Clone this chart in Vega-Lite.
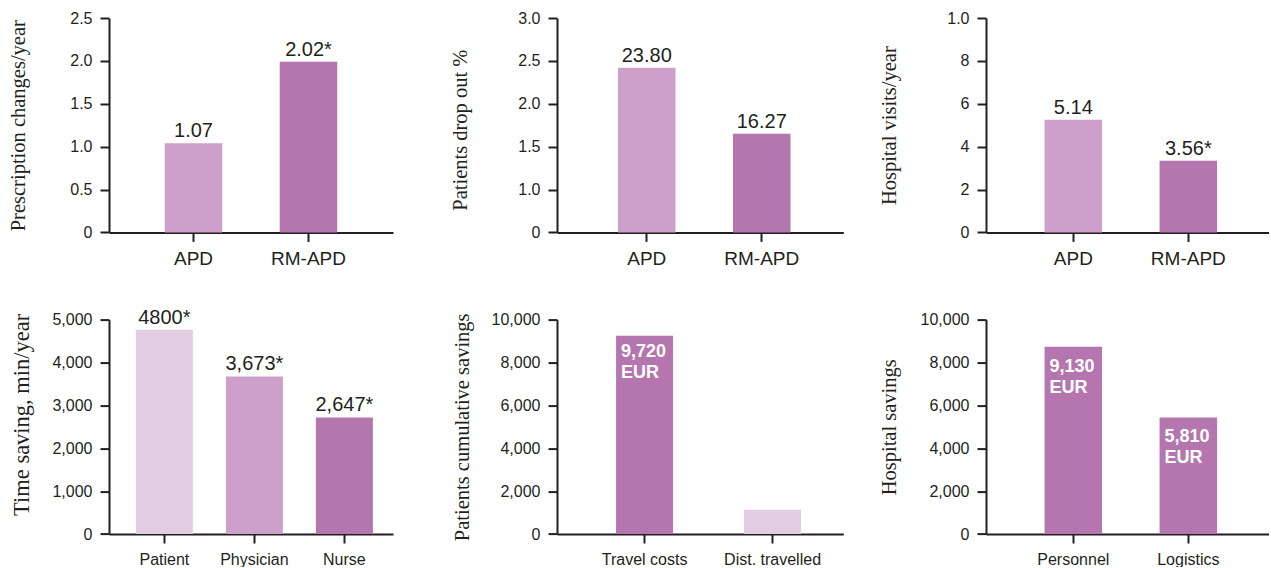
{
  "$schema": "https://vega.github.io/schema/vega-lite/v6.json",
  "padding": {"left": 8, "top": 10, "right": 0, "bottom": 0},
  "background": "white",
  "config": {
    "view": {"stroke": null},
    "axis": {
      "domainColor": "#231f20", "domainWidth": 2, "tickColor": "#231f20", "tickWidth": 2, "tickSize": 9,
      "labelColor": "#231f20", "labelFont": "Liberation Sans", "titleFont": "Liberation Serif",
      "titleFontWeight": "normal", "titleColor": "#231f20", "grid": false
    },
    "axisY": {"labelFontSize": 16, "labelPadding": 8, "titleFontSize": 20.5, "titleAngle": -90, "titleBaseline": "bottom", "titleAlign": "center"},
    "axisX": {"labelFontSize": 19, "labelPadding": 8, "labelAngle": 0, "title": null}
  },
  "datasets": {
    "p1": [{"cat": "APD", "value": 1.04, "label": "1.07"}, {"cat": "RM-APD", "value": 1.99, "label": "2.02*"}],
    "p2": [{"cat": "APD", "value": 2.42, "label": "23.80"}, {"cat": "RM-APD", "value": 1.65, "label": "16.27"}],
    "p3": [{"cat": "APD", "value": 5.26, "label": "5.14"}, {"cat": "RM-APD", "value": 3.34, "label": "3.56*"}],
    "p4": [{"cat": "Patient", "value": 4766, "label": "4800*"}, {"cat": "Physician", "value": 3675, "label": "3,673*"}, {"cat": "Nurse", "value": 2717, "label": "2,647*"}],
    "p5": [{"cat": "Travel costs", "value": 9252, "label": "9,720\nEUR"}, {"cat": "Dist. travelled", "value": 1136, "label": null}],
    "p6": [{"cat": "Personnel", "value": 8738, "label": "9,130\nEUR"}, {"cat": "Logistics", "value": 5435, "label": "5,810\nEUR"}]
  },
  "columns": 3,
  "bounds": "flush",
  "spacing": {"row": 86.6, "column": 142},
  "resolve": {"scale": {"color": "independent"}},
  "concat": [
    {
      "width": 305.7, "height": 214.4,
      "data": {"name": "p1"},
      "encoding": {
        "x": {"field": "cat", "type": "nominal", "sort": null, "scale": {"range": [0, 284], "paddingInner": 0.5, "paddingOuter": 0.4848, "align": 0.5}},
        "y": {"field": "value", "type": "quantitative", "stack": null, "scale": {"domain": [0, 2.5]},
              "axis": {"values": [0, 0.5, 1, 1.5, 2, 2.5], "labelExpr": "datum.value == 0 ? '0' : format(datum.value, '.1f')", "title": "Prescription changes/year", "titleX": -80.5}}
      },
      "layer": [
        {"mark": {"type": "bar"}, "encoding": {"color": {"field": "cat", "type": "nominal", "legend": null, "scale": {"domain": ["APD", "RM-APD"], "range": ["#cca0ca", "#b576af"]}}}},
        {"mark": {"type": "text", "font": "Liberation Sans", "fontSize": 20, "baseline": "alphabetic", "dy": -6, "color": "#231f20"}, "encoding": {"text": {"field": "label"}}}
      ]
    },
    {
      "width": 286.3, "height": 214.4,
      "data": {"name": "p2"},
      "encoding": {
        "x": {"field": "cat", "type": "nominal", "sort": null, "scale": {"paddingInner": 0.5, "paddingOuter": 0.4948, "align": 0.536}},
        "y": {"field": "value", "type": "quantitative", "stack": null, "scale": {"domain": [0.5, 3], "zero": false},
              "axis": {"values": [0.5, 1, 1.5, 2, 2.5, 3], "labelExpr": "datum.value == 0.5 ? '0' : format(datum.value, '.1f')", "title": "Patients drop out %", "titleX": -86.7, "titleY": 111.7}}
      },
      "layer": [
        {"mark": {"type": "bar"}, "encoding": {"y2": {"datum": 0.5}, "color": {"field": "cat", "type": "nominal", "legend": null, "scale": {"domain": ["APD", "RM-APD"], "range": ["#cca0ca", "#b576af"]}}}},
        {"mark": {"type": "text", "font": "Liberation Sans", "fontSize": 20, "baseline": "alphabetic", "dy": -6, "color": "#231f20"}, "encoding": {"text": {"field": "label"}}}
      ]
    },
    {
      "width": 283, "height": 214.4,
      "data": {"name": "p3"},
      "encoding": {
        "x": {"field": "cat", "type": "nominal", "sort": null, "scale": {"paddingInner": 0.5, "paddingOuter": 0.4804, "align": 0.53}},
        "y": {"field": "value", "type": "quantitative", "stack": null, "scale": {"domain": [0, 10]},
              "axis": {"values": [0, 2, 4, 6, 8, 10], "labelExpr": "datum.value == 10 ? '1.0' : datum.label", "title": "Hospital visits/year", "titleX": -87}}
      },
      "layer": [
        {"mark": {"type": "bar"}, "encoding": {"color": {"field": "cat", "type": "nominal", "legend": null, "scale": {"domain": ["APD", "RM-APD"], "range": ["#cca0ca", "#b576af"]}}}},
        {"mark": {"type": "text", "font": "Liberation Sans", "fontSize": 20, "baseline": "alphabetic", "dy": -6, "color": "#231f20"}, "encoding": {"text": {"field": "label"}}}
      ]
    },
    {
      "width": 305.7, "height": 214.4,
      "data": {"name": "p4"},
      "encoding": {
        "x": {"field": "cat", "type": "nominal", "sort": null, "scale": {"range": [0, 284], "paddingInner": 0.3667, "paddingOuter": 0.2611, "align": 0.572}, "axis": {"labelFontSize": 16}},
        "y": {"field": "value", "type": "quantitative", "stack": null, "scale": {"domain": [0, 5000]},
              "axis": {"values": [0, 1000, 2000, 3000, 4000, 5000], "format": ",d", "title": "Time saving, min/year", "titleFontSize": 22.5, "titleX": -76, "titleY": 94.7}}
      },
      "layer": [
        {"mark": {"type": "bar"}, "encoding": {"color": {"field": "cat", "type": "nominal", "legend": null, "scale": {"domain": ["Patient", "Physician", "Nurse"], "range": ["#e2cde3", "#cca0ca", "#b576af"]}}}},
        {"mark": {"type": "text", "font": "Liberation Sans", "fontSize": 20, "baseline": "alphabetic", "dy": -6, "color": "#231f20"}, "encoding": {"text": {"field": "label"}}}
      ]
    },
    {
      "width": 286.3, "height": 214.4,
      "data": {"name": "p5"},
      "encoding": {
        "x": {"field": "cat", "type": "nominal", "sort": null, "scale": {"paddingInner": 0.5547, "paddingOuter": 0.3957, "align": 0.583}, "axis": {"labelFontSize": 16}},
        "y": {"field": "value", "type": "quantitative", "stack": null, "scale": {"domain": [0, 10000]},
              "axis": {"values": [0, 2000, 4000, 6000, 8000, 10000], "format": ",d", "title": "Patients cumulative savings", "titleX": -85}}
      },
      "layer": [
        {"mark": {"type": "bar"}, "encoding": {"color": {"field": "cat", "type": "nominal", "legend": null, "scale": {"domain": ["Travel costs", "Dist. travelled"], "range": ["#b576af", "#e2cde3"]}}}},
        {"transform": [{"filter": "datum.label != null"}],
         "mark": {"type": "text", "font": "Liberation Sans", "fontWeight": "bold", "fontSize": 18, "color": "white", "align": "left", "baseline": "top", "dx": 5, "dy": 7, "lineBreak": "\n", "lineHeight": 21},
         "encoding": {"x": {"field": "cat", "type": "nominal", "sort": null, "bandPosition": 0}, "text": {"field": "label"}}}
      ]
    },
    {
      "width": 283, "height": 214.4,
      "data": {"name": "p6"},
      "encoding": {
        "x": {"field": "cat", "type": "nominal", "sort": null, "scale": {"paddingInner": 0.5, "paddingOuter": 0.4804, "align": 0.53}, "axis": {"labelFontSize": 16}},
        "y": {"field": "value", "type": "quantitative", "stack": null, "scale": {"domain": [0, 10000]},
              "axis": {"values": [0, 2000, 4000, 6000, 8000, 10000], "format": ",d", "title": "Hospital savings", "titleX": -87}}
      },
      "layer": [
        {"mark": {"type": "bar"}, "encoding": {"color": {"field": "cat", "type": "nominal", "legend": null, "scale": {"domain": ["Personnel", "Logistics"], "range": ["#b576af", "#b576af"]}}}},
        {"mark": {"type": "text", "font": "Liberation Sans", "fontWeight": "bold", "fontSize": 18, "color": "white", "align": "left", "baseline": "top", "dx": 5, "dy": 11, "lineBreak": "\n", "lineHeight": 21},
         "encoding": {"x": {"field": "cat", "type": "nominal", "sort": null, "bandPosition": 0}, "text": {"field": "label"}}}
      ]
    }
  ]
}
